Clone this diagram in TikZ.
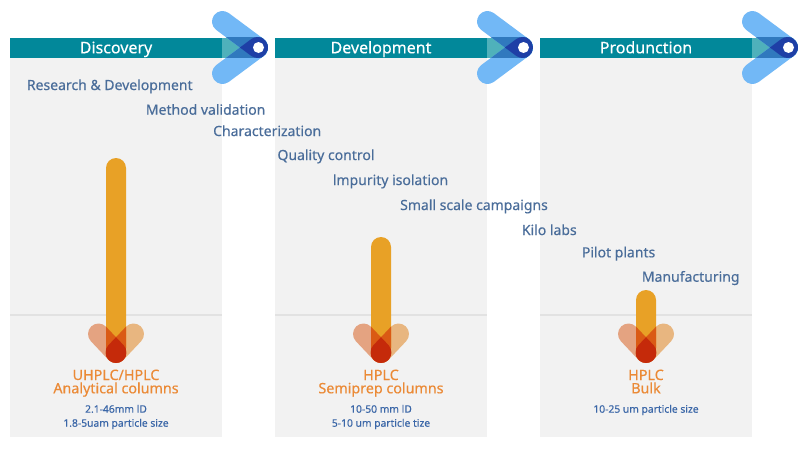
\documentclass[tikz,border=0pt]{standalone}
\usepackage{fontspec}
\setmainfont{Noto Sans}[FakeBold=0.35]
\definecolor{panelgray}{HTML}{F2F2F2}
\definecolor{divider}{HTML}{E2E2E2}
\definecolor{hdteal}{HTML}{02889A}
\definecolor{hdlight}{HTML}{4FB1BB}
\definecolor{armblue}{HTML}{72B8F6}
\definecolor{midblue}{HTML}{3079BE}
\definecolor{deepblue}{HTML}{1E3FA6}
\definecolor{vleft}{HTML}{E4A381}
\definecolor{vright}{HTML}{E8B680}
\definecolor{vbar}{HTML}{E8A126}
\definecolor{vdark}{HTML}{DA5A14}
\definecolor{vmix}{HTML}{D24A16}
\definecolor{vred}{HTML}{C52A0A}
\definecolor{lblue}{HTML}{4A6D9A}
\definecolor{sblue}{HTML}{3B67A8}
\definecolor{otext}{HTML}{EB8A36}
\newcommand\mkstad[6]{%
  \pgfmathsetmacro\stth{atan2((#5)-(#3),(#4)-(#2))}%
  \pgfmathsetmacro\stpx{(#6)*sin(\stth)}%
  \pgfmathsetmacro\stpy{-(#6)*cos(\stth)}%
  \pgfmathsetmacro\stAx{(#2)+\stpx}\pgfmathsetmacro\stAy{(#3)+\stpy}%
  \pgfmathsetmacro\stBx{(#4)+\stpx}\pgfmathsetmacro\stBy{(#5)+\stpy}%
  \pgfmathsetmacro\stCx{(#2)-\stpx}\pgfmathsetmacro\stCy{(#3)-\stpy}%
  \pgfmathsetmacro\stsa{\stth-90}\pgfmathsetmacro\stsb{\stth+90}\pgfmathsetmacro\stsc{\stth+270}%
  \edef#1{(\stAx,\stAy) -- (\stBx,\stBy) arc[start angle=\stsa,end angle=\stsb,radius=#6] -- (\stCx,\stCy) arc[start angle=\stsb,end angle=\stsc,radius=#6] -- cycle}%
}
\begin{document}
\begin{tikzpicture}[x=1pt,y=1pt,yscale=-1,
  hdtext/.style={anchor=base,inner sep=0pt,text=white,font=\fontsize{16}{18}\selectfont},
  stage/.style={anchor=base west,inner sep=0pt,text=lblue,font=\fontsize{14}{16}\selectfont},
  coltext/.style={anchor=base,inner sep=0pt,text=otext,font=\fontsize{14.3}{16}\selectfont},
  spec/.style={anchor=base,inner sep=0pt,text=sblue,font=\fontsize{10.3}{12}\selectfont},
  dividerline/.style={draw=divider,line width=2pt}]
\useasboundingbox[fill=white] (0,0) rectangle (800,450);
\foreach \ox/\cx/\ty/\hd/\k in {0/116/158/Discovery/1,265/381/237/Development/2,530/646/290/Produnction/3}{
  \fill[panelgray] (10+\ox,57.5) rectangle (222+\ox,437);
  \draw[dividerline] (10+\ox,315) -- (222+\ox,315);
  \fill[hdteal] (10+\ox,37.5) rectangle (222+\ox,57.5);
  \fill[hdlight] (222+\ox,37.5) rectangle (262+\ox,57.5);
  \node[hdtext] (head\k) at (116+\ox,53.3) {\hd};
  % chevron
  \mkstad\armA{222.5+\ox}{21.5}{257.5+\ox}{47.5}{10.5}
  \mkstad\armB{222.5+\ox}{73.5}{257.5+\ox}{47.5}{10.5}
  \fill[armblue] \armA;
  \fill[armblue] \armB;
  \begin{scope}
    \clip (212+\ox,37.5) rectangle (270+\ox,57.5);
    \fill[midblue] \armA;
    \fill[midblue] \armB;
  \end{scope}
  \begin{scope}
    \clip \armA;
    \fill[deepblue] \armB;
  \end{scope}
  \fill[white] (258.5+\ox,47.5) circle (5.5);
  % orange arrow
  \mkstad\vL{\cx-17.5}{334}{\cx}{352.5}{10.5}
  \mkstad\vR{\cx+17.5}{334}{\cx}{352.5}{10.5}
  \mkstad\vB{\cx}{\ty+10}{\cx}{348}{10}
  \fill[vleft] \vL;
  \fill[vright] \vR;
  \fill[vbar] \vB;
  \begin{scope}
    \clip \vL;
    \fill[vdark] \vB;
  \end{scope}
  \begin{scope}
    \clip \vR;
    \fill[vdark] \vB;
  \end{scope}
  \begin{scope}
    \clip \vL;
    \clip \vR;
    \fill[vmix] (\cx-20,320) rectangle (\cx+20,370);
    \fill[vred] (\cx-10,320) rectangle (\cx+10,370);
  \end{scope}
}
% stage labels
\node[stage] (s1) at (26.7,90) {Research \& Development};
\node[stage] (s2) at (145.7,114.7) {Method validation};
\node[stage] (s3) at (213,136) {Characterization};
\node[stage] (s4) at (277.3,160) {Quality control};
\node[stage] (s5) at (332.7,185) {lmpurity isolation};
\node[stage] (s6) at (400,210) {Small scale campaigns};
\node[stage] (s7) at (521.7,235) {Kilo labs};
\node[stage] (s8) at (581.7,257.3) {Pilot plants};
\node[stage] (s9) at (641.7,281.7) {Manufacturing};
% column texts
\node[coltext] (c1a) at (116,380) {UHPLC/HPLC};
\node[coltext] (c1b) at (116,393.3) {Analytical columns};
\node[spec] (d1a) at (116,412.7) {2.1-46mm lD};
\node[spec] (d1b) at (116,426.7) {1.8-5uam particle size};
\node[coltext] (c2a) at (381,380) {HPLC};
\node[coltext] (c2b) at (381,393.3) {Semiprep columns};
\node[spec] (d2a) at (381,412.7) {10-50 mm lD};
\node[spec] (d2b) at (381,426.7) {5-10 um particle tize};
\node[coltext] (c3a) at (646,380) {HPLC};
\node[coltext] (c3b) at (646,393.3) {Bulk};
\node[spec] (d3a) at (646,412.7) {10-25 um particle size};
\end{tikzpicture}
\end{document}
